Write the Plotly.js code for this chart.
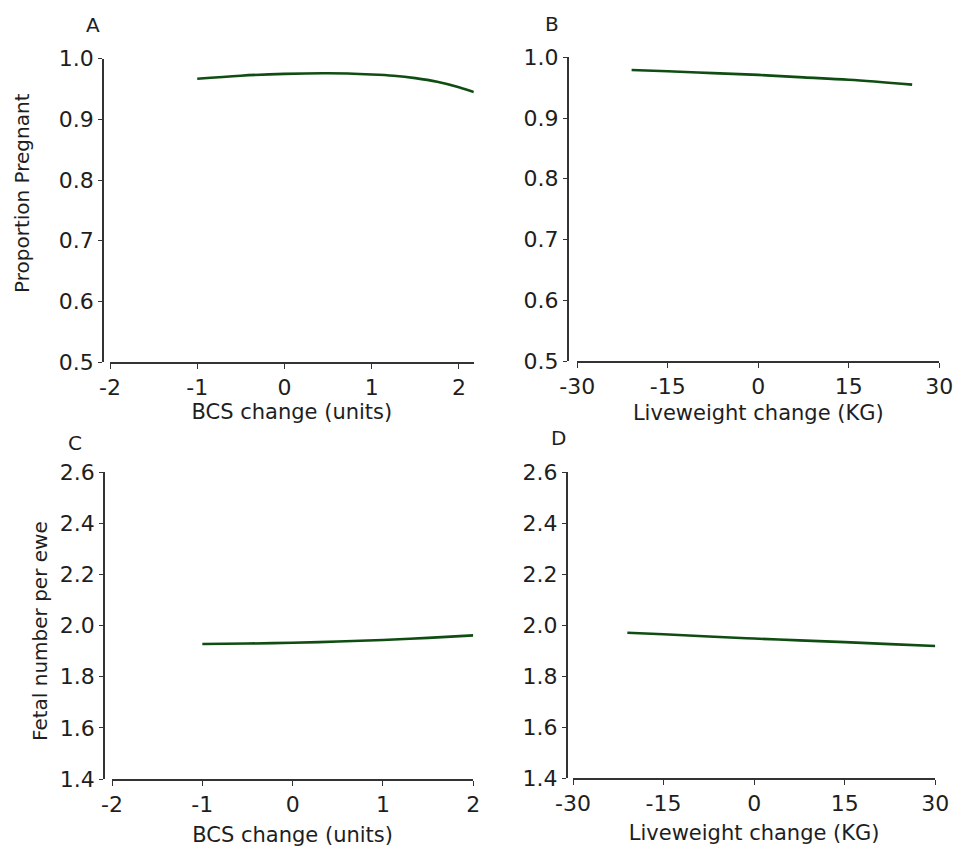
<!DOCTYPE html>
<html>
<head>
<meta charset="utf-8">
<script src="https://cdn.plot.ly/plotly-3.0.1.min.js"></script>
<style>html,body{margin:0;padding:0;background:#fff;}#chart{width:955px;height:847px;}</style>
</head>
<body>
<div id="chart"></div>
<script>
// Panel A: BCS change vs proportion pregnant
const bcsA = [-1, -0.5, 0, 0.5, 1, 1.25, 1.5, 1.75, 2, 2.17];
const pregA = [0.967, 0.972, 0.975, 0.976, 0.974, 0.972, 0.968, 0.962, 0.953, 0.945];
// Panel B: liveweight change vs proportion pregnant
const lwB = [-21, -15, -7.5, 0, 7.5, 15, 25.5];
const pregB = [0.979, 0.977, 0.974, 0.971, 0.967, 0.963, 0.955];
// Panel C: BCS change vs fetal number
const bcsC = [-1, -0.5, 0, 0.5, 1, 1.5, 2];
const fetalC = [1.928, 1.930, 1.933, 1.938, 1.944, 1.952, 1.962];
// Panel D: liveweight change vs fetal number
const lwD = [-21, -15, -7.5, 0, 7.5, 15, 22.5, 30];
const fetalD = [1.971, 1.965, 1.956, 1.948, 1.941, 1.934, 1.926, 1.919];

const panelLabels = ['A', 'B', 'C', 'D'];
const xTitles = ['BCS change (units)', 'Liveweight change (KG)', 'BCS change (units)', 'Liveweight change (KG)'];
const yTitles = ['Proportion Pregnant', 'Fetal number per ewe'];
const bcsTicks = [-2, -1, 0, 1, 2];
const lwTicks = [-30, -15, 0, 15, 30];
const pregTicks = [0.5, 0.6, 0.7, 0.8, 0.9, 1.0];
const fetalTicks = [1.4, 1.6, 1.8, 2.0, 2.2, 2.4, 2.6];

const W = 955, H = 847;
const px = v => v / W;
const py = v => 1 - v / H;
const FONT = 'DejaVu Sans, Liberation Sans, Arial, sans-serif';
const lineColor = '#0f4d12';
const axisColor = '#333333';
const textColor = '#1e1e1e';

const traces = [
  {x: bcsA, y: pregA, xaxis: 'x', yaxis: 'y'},
  {x: lwB, y: pregB, xaxis: 'x2', yaxis: 'y2'},
  {x: bcsC, y: fetalC, xaxis: 'x3', yaxis: 'y3'},
  {x: lwD, y: fetalD, xaxis: 'x4', yaxis: 'y4'}
].map(t => Object.assign(t, {
  type: 'scatter', mode: 'lines', line: {color: lineColor, width: 2.6, shape: 'spline'},
  showlegend: false, hoverinfo: 'x+y'
}));

function xAxis(domain, range, ticks, title, anchor, standoff) {
  return {
    domain: domain, range: range, anchor: anchor, tickvals: ticks,
    ticktext: ticks.map(v => String(v)),
    showline: true, linecolor: axisColor, linewidth: 1.5,
    ticks: 'outside', ticklen: 5, tickwidth: 1.3, tickcolor: axisColor,
    showgrid: false, zeroline: false, fixedrange: true,
    tickfont: {family: FONT, size: 22, color: textColor},
    title: {text: title, font: {family: FONT, size: 21, color: textColor}, standoff: standoff},
    automargin: false
  };
}
function yAxis(domain, range, ticks, position) {
  return {
    domain: domain, range: range, anchor: 'free', position: position,
    tickvals: ticks, ticktext: ticks.map(v => v.toFixed(1)),
    showline: true, linecolor: axisColor, linewidth: 1.5,
    ticks: 'outside', ticklen: 4, tickwidth: 1.3, tickcolor: axisColor,
    showgrid: false, zeroline: false, fixedrange: true,
    tickfont: {family: FONT, size: 22, color: textColor},
    automargin: false
  };
}

const annBase = {xref: 'paper', yref: 'paper', showarrow: false, xanchor: 'center', yanchor: 'middle'};
const layout = {
  width: W, height: H,
  margin: {l: 0, r: 0, t: 0, b: 0},
  paper_bgcolor: '#ffffff', plot_bgcolor: '#ffffff',
  font: {family: FONT, color: textColor},
  showlegend: false,
  xaxis: xAxis([px(110), px(473.8)], [-2, 2.17], bcsTicks, xTitles[0], 'y', 5),
  yaxis: yAxis([py(362), py(58.7)], [0.5, 1.0], pregTicks, px(103)),
  xaxis2: xAxis([px(577.3), px(939.3)], [-30, 30], lwTicks, xTitles[1], 'y2', 7),
  yaxis2: yAxis([py(361), py(57.3)], [0.5, 1.0], pregTicks, px(567.7)),
  xaxis3: xAxis([px(112), px(473.3)], [-2, 2], bcsTicks, xTitles[2], 'y3', 13),
  yaxis3: yAxis([py(779), py(472.3)], [1.4, 2.6], fetalTicks, px(104)),
  xaxis4: xAxis([px(573), px(935.3)], [-30, 30], lwTicks, xTitles[3], 'y4', 10),
  yaxis4: yAxis([py(778.3), py(472.3)], [1.4, 2.6], fetalTicks, px(566.7)),
  annotations: [
    {text: panelLabels[0], x: px(93), y: py(25)},
    {text: panelLabels[1], x: px(552), y: py(24)},
    {text: panelLabels[2], x: px(75), y: py(443)},
    {text: panelLabels[3], x: px(558), y: py(438)}
  ].map(a => Object.assign(a, annBase, {font: {family: FONT, size: 20, color: textColor}})).concat([
    Object.assign({text: yTitles[0], x: px(22), y: py(193), textangle: -90}, annBase,
      {font: {family: FONT, size: 20, color: textColor}}),
    Object.assign({text: yTitles[1], x: px(40), y: py(631), textangle: -90}, annBase,
      {font: {family: FONT, size: 20, color: textColor}})
  ])
};

Plotly.newPlot('chart', traces, layout, {displayModeBar: false});
</script>
</body>
</html>
